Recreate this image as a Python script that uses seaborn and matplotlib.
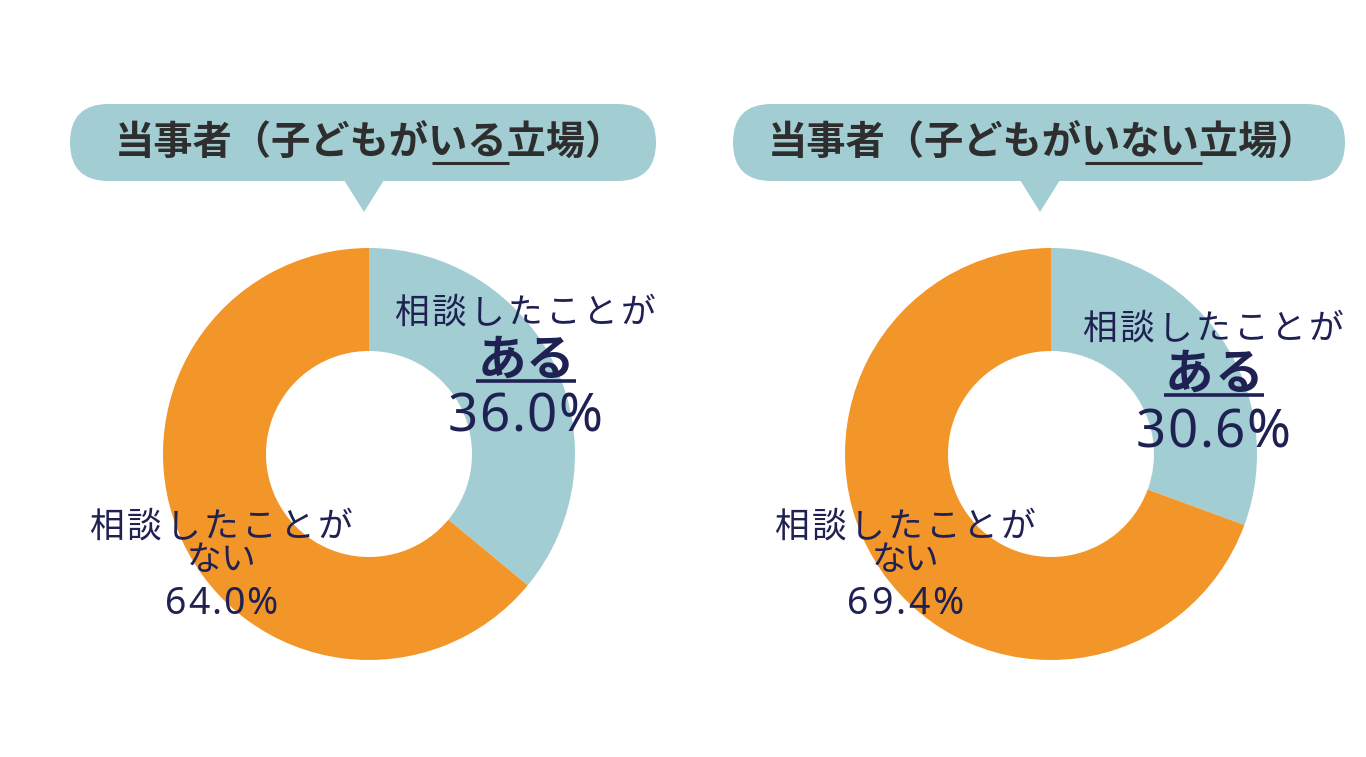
import matplotlib
matplotlib.use("Agg")
import matplotlib.pyplot as plt
import seaborn as sns
from matplotlib.patches import FancyBboxPatch, Polygon
from matplotlib.font_manager import FontProperties, findfont
from matplotlib.ft2font import FT2Font

# ---- data ----
groups = ["当事者（子どもがいる立場）", "当事者（子どもがいない立場）"]
underlined = ["いる", "いない"]
categories = ["相談したことがある", "相談したことがない"]
share_yes = [36.0, 30.6]
share_no = [64.0, 69.4]

sns.set_theme(style="white")
FAMILY = ['Noto Sans CJK JP', 'DejaVu Sans']
NUM_FAMILY = ['Noto Sans', 'DejaVu Sans']
plt.rcParams['font.family'] = FAMILY

TEAL = "#A2CED3"
ORANGE = "#F39629"
NAVY = "#1F2152"
TITLE_C = "#2E2E2E"

W, H = 1366, 757
fig = plt.figure(figsize=(W / 100, H / 100), dpi=100)
ax = fig.add_axes([0, 0, 1, 1])
renderer = fig.canvas.get_renderer()


def Y(py):
    return H - py


def metrics(s, size, weight="normal", family=FAMILY):
    prop = FontProperties(family=family, size=size, weight=weight)
    return renderer.get_text_width_height_descent(s, prop, ismath=False)


def advances(s, size, weight="normal", family=FAMILY):
    path = findfont(FontProperties(family=family[0], weight=weight))
    font = FT2Font(path)
    font.set_size(size, 100)
    return [font.load_char(ord(c)).linearHoriAdvance / 65536 for c in s]


def text_width(s, **kw):
    t = ax.text(0, 0, s, **kw)
    bb = t.get_window_extent(renderer)
    t.remove()
    return bb.width


def tracked_text(cx, cy_px, s, size, target_w, weight="normal",
                 family=FAMILY, color=NAVY):
    """Letter-spaced text: advance widths plus uniform tracking."""
    _, h, d = metrics(s, size, weight, family)
    base = Y(cy_px) - h / 2 + d
    adv = advances(s, size, weight, family)
    track = (target_w - sum(adv)) / max(len(s) - 1, 1)
    x = cx - target_w / 2
    for c, a in zip(s, adv):
        ax.text(x + a / 2, base, c, ha="center", va="baseline", fontsize=size,
                fontweight=weight, color=color, family=family)
        x += a + track


layout = [
    dict(cx=369, bub=(70, 656), tip=364, title_x=370,
         top_x=525, top_y=(310, 357, 413), top_w=(262, 97, 154),
         bot_x=221, bot_w=(264, 68, 112)),
    dict(cx=1051, bub=(733, 1345), tip=1040, title_x=1043,
         top_x=1213, top_y=(326, 371, 428), top_w=(262, 98, 154),
         bot_x=905, bot_w=(262, 66, 116)),
]

for i, g in enumerate(groups):
    L = layout[i]
    # donut
    ax.pie([share_yes[i], share_no[i]], colors=[TEAL, ORANGE], startangle=90,
           counterclock=False, center=(L["cx"], Y(454)), radius=206,
           wedgeprops=dict(width=103, edgecolor="none", linewidth=0))

    # speech bubble
    x0, x1 = L["bub"]
    ax.add_patch(FancyBboxPatch((x0, Y(181)), x1 - x0, 77,
                                boxstyle="round,pad=0,rounding_size=38.5",
                                facecolor=TEAL, edgecolor="none"))
    tip = L["tip"]
    ax.add_patch(Polygon([(tip - 20, Y(180)), (tip + 20, Y(180)), (tip, Y(212))],
                         closed=True, facecolor=TEAL, edgecolor="none"))

    # title with partial underline
    tkw = dict(fontsize=28.3, fontweight="bold", color=TITLE_C)
    ax.text(L["title_x"], Y(142), g, ha="center", va="center", **tkw)
    full_w = text_width(g, **tkw)
    pre = g.split(underlined[i])[0]
    w_pre = text_width(pre, **tkw)
    w_u = text_width(pre + underlined[i], **tkw)
    left = L["title_x"] - full_w / 2
    ax.plot([left + w_pre + 3, left + w_u + 2], [Y(163), Y(163)], color=TITLE_C,
            lw=2.2, solid_capstyle="butt")

    # top label (ある)
    ty, tw, tx = L["top_y"], L["top_w"], L["top_x"]
    tracked_text(tx, ty[0], categories[0][:-2], 25, tw[0])
    tracked_text(tx + 1, ty[1], categories[0][-2:], 35, tw[1], weight="bold")
    ax.plot([tx - 49, tx + 51], [Y(ty[1] + 24)] * 2, color=NAVY, lw=2.6,
            solid_capstyle="butt")
    tracked_text(tx, ty[2], f"{share_yes[i]:.1f}%", 38, tw[2], family=NUM_FAMILY)

    # bottom label (ない)
    bx, bw = L["bot_x"], L["bot_w"]
    tracked_text(bx, 524, categories[1][:-2], 25, bw[0])
    tracked_text(bx, 557, categories[1][-2:], 25, bw[1])
    tracked_text(bx, 600, f"{share_no[i]:.1f}%", 27, bw[2], family=NUM_FAMILY)

ax.set_xlim(0, W)
ax.set_ylim(0, H)
ax.set_aspect("equal")
ax.axis("off")

fig.savefig("out.png", dpi=100, facecolor="white")
